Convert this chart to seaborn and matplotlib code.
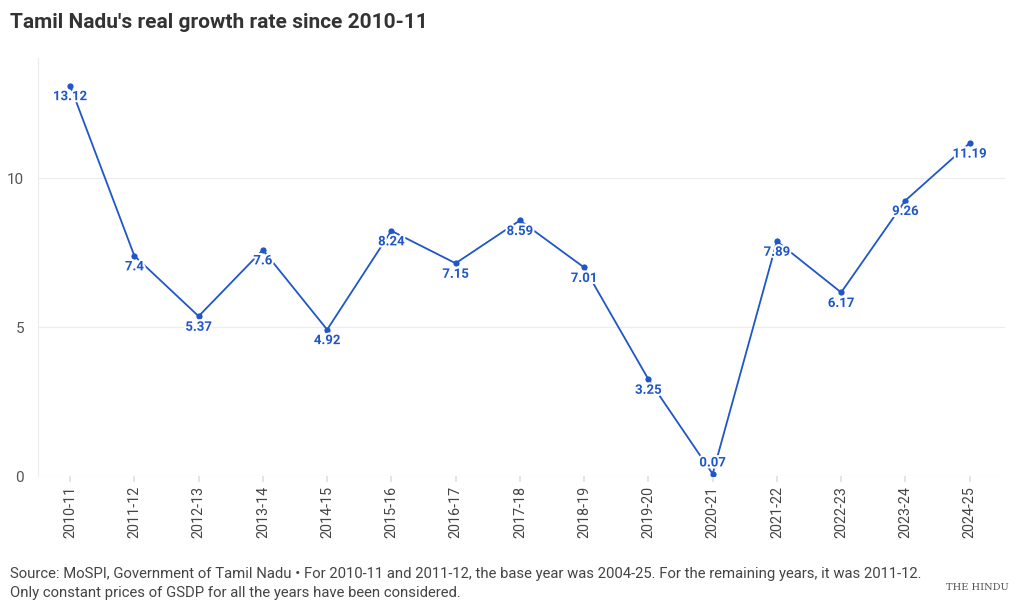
import matplotlib
matplotlib.use("Agg")
import matplotlib.pyplot as plt
import matplotlib.patheffects as pe
import seaborn as sns
import pandas as pd

years = ["2010-11", "2011-12", "2012-13", "2013-14", "2014-15", "2015-16", "2016-17",
         "2017-18", "2018-19", "2019-20", "2020-21", "2021-22", "2022-23", "2023-24", "2024-25"]
growth = [13.12, 7.4, 5.37, 7.6, 4.92, 8.24, 7.15, 8.59, 7.01, 3.25, 0.07, 7.89, 6.17, 9.26, 11.19]
label_above = ["2020-21"]
yticks = [0, 5, 10]

sns.set_theme(style="white")
plt.rcParams['font.family'] = ['Roboto', 'DejaVu Sans']

BLUE = "#1f56c8"
df = pd.DataFrame({"year": years, "growth": growth})

fig = plt.figure(figsize=(10.2, 6.12), dpi=100)
ax = fig.add_axes([38/1020, 1 - 476/612, (1005-38)/1020, (476-58)/612])

sns.lineplot(data=df, x="year", y="growth", ax=ax, color=BLUE, lw=1.3,
             marker="o", markersize=4.5, markeredgewidth=0, sort=False)

for i, (yr, v) in enumerate(zip(years, growth)):
    off = 11 if yr in label_above else -11
    ax.annotate(f"{v:g}", (i, v), xytext=(0, off), textcoords="offset pixels",
                ha="center", va="center", fontsize=9.5, fontweight="bold", color=BLUE,
                path_effects=[pe.withStroke(linewidth=3, foreground="white")])

ax.set_xlim(-0.5, 14.55)
ax.set_ylim(0, 14.05)
ax.set_yticks(yticks)
ax.set_yticklabels([str(t) for t in yticks])
ax.grid(axis="y", color="#ececec", lw=0.8)
ax.set_axisbelow(True)
for s in ["top", "right", "bottom"]:
    ax.spines[s].set_visible(False)
ax.spines["left"].set_color("#ececec")
ax.spines["left"].set_linewidth(0.8)
ax.set_xlabel("")
ax.set_ylabel("")
ax.tick_params(axis="x", rotation=90, labelsize=10.3, colors="#444444", length=4, color="#e0e0e0", pad=3, bottom=True)
ax.tick_params(axis="y", labelsize=11, colors="#555555", length=0, pad=10)
for lab in ax.get_xticklabels():
    lab.set_color("#444444")

fig.text(10/1020, 1 - 22/612, "Tamil Nadu's real growth rate since 2010-11", fontsize=15,
         fontweight="bold", color="#333333", va="center", ha="left")
fig.text(10/1020, 1 - 574/612,
         "Source: MoSPI, Government of Tamil Nadu • For 2010-11 and 2011-12, the base year was 2004-25. For the remaining years, it was 2011-12.",
         fontsize=10.7, color="#444444", va="center", ha="left")
fig.text(10/1020, 1 - 593/612, "Only constant prices of GSDP for all the years have been considered.",
         fontsize=10.7, color="#444444", va="center", ha="left")
fig.text(977/1020, 1 - 588/612, "THE HINDU", fontsize=7, color="#555555", family="DejaVu Serif",
         va="center", ha="center")

fig.savefig("out.png", dpi=100)
